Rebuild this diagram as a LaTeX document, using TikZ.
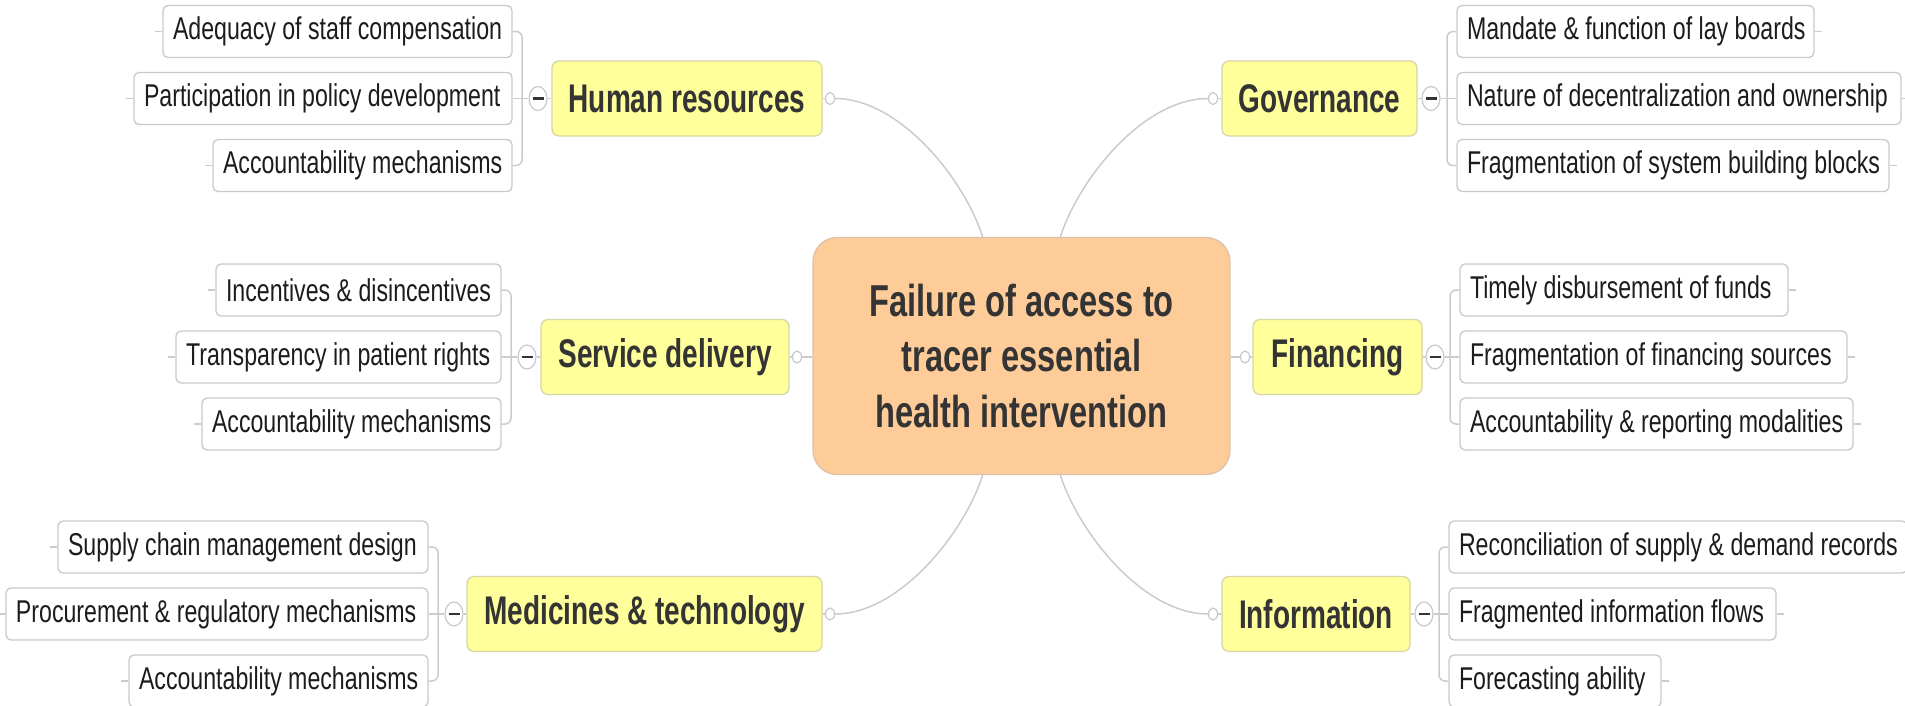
\documentclass[tikz,border=0pt]{standalone}
\usepackage{fontspec}
\setmainfont{Liberation Sans}[FakeStretch=0.735]
\newfontfamily\topicfont{Liberation Sans}[FakeStretch=0.70]
\newfontfamily\centfont{Liberation Sans}[FakeStretch=0.73]
\usetikzlibrary{shapes.geometric,calc}
\definecolor{bd}{HTML}{C9C9C9}
\definecolor{conncol}{HTML}{CBCBCB}
\definecolor{yfill}{HTML}{FFFF9C}
\definecolor{ybd}{HTML}{D6D6A6}
\definecolor{cfill}{HTML}{FECC99}
\definecolor{cbd}{HTML}{DCC2A8}
\definecolor{leaftxt}{HTML}{1C1C1C}
\definecolor{maintxt}{HTML}{343434}
\newcommand\lt[1]{\noindent\mbox{\spaceskip=0pt\xspaceskip=0pt #1}}
\begin{document}
\begin{tikzpicture}[x=1pt,y=-1pt,
  leaf/.style={draw=bd, line width=1.3pt, fill=white, rounded corners=5pt,
    minimum height=52pt, inner xsep=10pt, inner ysep=0pt, text=leaftxt,
    font=\fontsize{31.5}{36}\selectfont},
  topic/.style={draw=ybd, line width=1.3pt, fill=yfill, rounded corners=7pt,
    minimum height=75pt, inner xsep=0pt, inner ysep=0pt, text=maintxt,
    font=\topicfont\bfseries\fontsize{40}{46}\selectfont},
  central/.style={draw=cbd, line width=1.3pt, fill=cfill, rounded corners=24pt,
    minimum width=417pt, minimum height=237pt, align=center, text=maintxt,
    font=\centfont\bfseries\fontsize{44.7}{55.5}\selectfont},
  joint/.style={ellipse, draw=bd, line width=1.2pt, fill=white, minimum width=9pt,
    minimum height=12pt, inner sep=0pt},
  collapse/.style={ellipse, draw=bd, line width=1.2pt, fill=white, minimum width=18pt,
    minimum height=24pt, inner sep=0pt,
    path picture={\draw[line width=2.6pt, maintxt] ($(path picture bounding box.center)+(-5.5,0)$) -- ++(11,0);}},
  conn/.style={draw=conncol, line width=1.5pt},
  bracket/.style={draw=conncol, line width=1.5pt, rounded corners=6pt}
]
\useasboundingbox (0,0) rectangle (1905,705);

% central
\node[central] (c) at (1021.5,356) {Failure of access to\\tracer essential\\health intervention};
\coordinate (ctl) at (983,238);
\coordinate (ctr) at (1060,238);
\coordinate (cbl) at (983,474);
\coordinate (cbr) at (1060,474);

% topics
\node[topic, minimum width=270pt] (hr) at (687,98.5) {Human resources};
\node[topic, minimum width=248pt] (sd) at (665,357) {Service delivery};
\node[topic, minimum width=355pt] (md) at (644.5,614) {Medicines \& technology};
\node[topic, minimum width=195pt] (gv) at (1319.5,98.5) {Governance};
\node[topic, minimum width=169pt] (fn) at (1337.5,357) {Financing};
\node[topic, minimum width=188pt] (inf) at (1316,614) {Information};

% joints
\node[joint] (hrj) at (830,98.5) {};
\node[joint] (sdj) at (797,357) {};
\node[joint] (mdj) at (830,614) {};
\node[joint] (gvj) at (1213,98.5) {};
\node[joint] (fnj) at (1245,357) {};
\node[joint] (infj) at (1213,614) {};

% curves to central
\draw[conn] (hr) -- (hrj);
\draw[conn] (hrj.east) .. controls (900,98.5) and (965,180) .. (ctl);
\draw[conn] (gv) -- (gvj);
\draw[conn] (gvj.west) .. controls (1143,98.5) and (1078,180) .. (ctr);
\draw[conn] (md) -- (mdj);
\draw[conn] (mdj.east) .. controls (900,614) and (965,532) .. (cbl);
\draw[conn] (inf) -- (infj);
\draw[conn] (infj.west) .. controls (1143,614) and (1078,532) .. (cbr);
\draw[conn] (sd) -- (sdj) -- (c.west |- sdj);
\draw[conn] (fn) -- (fnj) -- (c.east |- fnj);

% leaves: Human resources
\node[leaf, text width=329pt] (hr1) at (337.5,31.5) {\lt{Adequacy of staff compensation}};
\node[leaf, text width=358pt] (hr2) at (323,98.5) {\lt{Participation in policy development}};
\node[leaf, text width=279pt] (hr3) at (362.5,165.5) {\lt{Accountability mechanisms}};
\node[collapse] (hrc) at (538,98.5) {};
\coordinate (hrb) at (522,98.5);
\draw[bracket] (hr1.east) -| (hrb) |- (hr3.east);
\draw[conn] (hr2.east) -- (hrc.west);
\draw[conn] (hrc.east) -- (hr.west);
\foreach \n in {hr1,hr2,hr3} \draw[conn] (\n.west) -- ++(-7,0);

% leaves: Service delivery
\node[leaf, text width=265pt] (sd1) at (358.5,290) {\lt{Incentives \& disincentives}};
\node[leaf, text width=305pt] (sd2) at (338.5,357) {\lt{Transparency in patient rights}};
\node[leaf, text width=279pt] (sd3) at (351.5,424) {\lt{Accountability mechanisms}};
\node[collapse] (sdc) at (527,357) {};
\coordinate (sdb) at (511,357);
\draw[bracket] (sd1.east) -| (sdb) |- (sd3.east);
\draw[conn] (sd2.east) -- (sdc.west);
\draw[conn] (sdc.east) -- (sd.west);
\foreach \n in {sd1,sd2,sd3} \draw[conn] (\n.west) -- ++(-7,0);

% leaves: Medicines & technology
\node[leaf, text width=350pt] (md1) at (243,547) {\lt{Supply chain management design}};
\node[leaf, text width=402pt] (md2) at (217,614) {\lt{Procurement \& regulatory mechanisms}};
\node[leaf, text width=279pt] (md3) at (278.5,681) {\lt{Accountability mechanisms}};
\node[collapse] (mdc) at (454,614) {};
\coordinate (mdb) at (438,614);
\draw[bracket] (md1.east) -| (mdb) |- (md3.east);
\draw[conn] (md2.east) -- (mdc.west);
\draw[conn] (mdc.east) -- (md.west);
\foreach \n in {md1,md2,md3} \draw[conn] (\n.west) -- ++(-7,0);

% leaves: Governance
\node[leaf, text width=337pt] (gv1) at (1635.5,31.5) {\lt{Mandate \& function of lay boards}};
\node[leaf, text width=424pt] (gv2) at (1679,98.5) {\lt{Nature of decentralization and ownership}};
\node[leaf, text width=412pt] (gv3) at (1673,165.5) {\lt{Fragmentation of system building blocks}};
\node[collapse] (gvc) at (1431,98.5) {};
\coordinate (gvb) at (1447,98.5);
\draw[bracket] (gv1.west) -| (gvb) |- (gv3.west);
\draw[conn] (gv2.west) -- (gvc.east);
\draw[conn] (gvc.west) -- (gv.east);
\foreach \n in {gv1,gv2,gv3} \draw[conn] (\n.east) -- ++(7,0);

% leaves: Financing
\node[leaf, text width=308pt] (fn1) at (1624,290) {\lt{Timely disbursement of funds}};
\node[leaf, text width=367pt] (fn2) at (1653.5,357) {\lt{Fragmentation of financing sources}};
\node[leaf, text width=373pt] (fn3) at (1656.5,424) {\lt{Accountability \& reporting modalities}};
\node[collapse] (fnc) at (1435,357) {};
\coordinate (fnb) at (1450,357);
\draw[bracket] (fn1.west) -| (fnb) |- (fn3.west);
\draw[conn] (fn2.west) -- (fnc.east);
\draw[conn] (fnc.west) -- (fn.east);
\foreach \n in {fn1,fn2,fn3} \draw[conn] (\n.east) -- ++(7,0);

% leaves: Information
\node[leaf, text width=438pt] (in1) at (1678,547) {\lt{Reconciliation of supply \& demand records}};
\node[leaf, text width=307pt] (in2) at (1612.5,614) {\lt{Fragmented information flows}};
\node[leaf, text width=192pt] (in3) at (1555,681) {\lt{Forecasting ability}};
\node[collapse] (infc) at (1424,614) {};
\coordinate (infb) at (1439,614);
\draw[bracket] (in1.west) -| (infb) |- (in3.west);
\draw[conn] (in2.west) -- (infc.east);
\draw[conn] (infc.west) -- (inf.east);
\foreach \n in {in2,in3} \draw[conn] (\n.east) -- ++(7,0);
\end{tikzpicture}
\end{document}
